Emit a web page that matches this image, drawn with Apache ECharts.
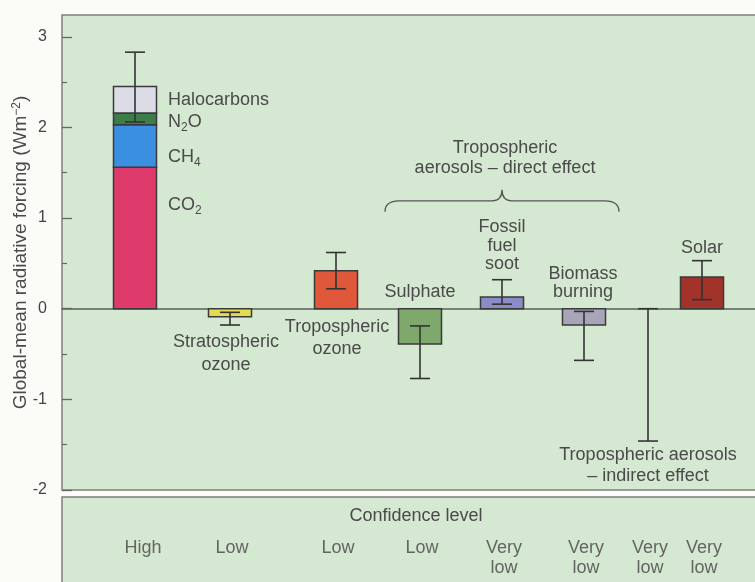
<!DOCTYPE html>
<html>
<head>
<meta charset="utf-8">
<script src="https://cdn.jsdelivr.net/npm/echarts@6/dist/echarts.min.js"></script>
<style>
  html, body { margin: 0; padding: 0; background: #fbfbf8; }
  #graph { width: 755px; height: 582px; }
</style>
</head>
<body>
<div id="graph"></div>
<script>
// forcing agents, left to right
var categories = ['Greenhouse gases', 'Stratospheric ozone', 'Tropospheric ozone', 'Sulphate',
    'Fossil fuel soot', 'Biomass burning', 'Tropospheric aerosols – indirect effect', 'Solar'];
var xPos = [73, 168, 274, 358, 440, 522, 586, 640];

// greenhouse gas stack (Wm-2)
var ghgNames = ['CO2', 'CH4', 'N2O', 'Halocarbons'];
var ghgValues = [1.56, 0.47, 0.13, 0.29];

// single bars (null = no bar)
var barValues = [null, -0.09, 0.42, -0.39, 0.13, -0.18, null, 0.35];

// uncertainty ranges
var errLow = [2.06, -0.18, 0.22, -0.77, 0.05, -0.57, -1.46, 0.10];
var errHigh = [2.83, -0.04, 0.62, -0.19, 0.32, -0.03, 0.00, 0.53];

var confidence = ['High', 'Low', 'Low', 'Low', 'Very\nlow', 'Very\nlow', 'Very\nlow', 'Very\nlow'];

var yTicks = [-2, -1, 0, 1, 2, 3];
var yMinorTicks = [-1.5, -0.5, 0.5, 1.5, 2.5];

var ghgColors = ['#de3a6b', '#3b8fe0', '#3d7d48', '#dcdce6'];
var barColors = [null, '#e4dc50', '#e0583a', '#7ea86c', '#8a8cc8', '#a9a5b8', null, '#a2332b'];

var FONT = '"Liberation Sans", Arial, sans-serif';
var TXT = '#4a4a4a';
var BG = '#d5e8d1';
var BAR_W = 43;

var barData = [];
var base = 0;
ghgValues.forEach(function (v, i) {
    barData.push({ name: ghgNames[i], value: [xPos[0], base, base + v], itemStyle: { color: ghgColors[i] } });
    base += v;
});
barValues.forEach(function (v, i) {
    if (v === null) return;
    barData.push({ name: categories[i], value: [xPos[i], 0, v], itemStyle: { color: barColors[i] } });
});

var errData = xPos.map(function (x, i) { return [x, errLow[i], errHigh[i]]; });

function renderBar(params, api) {
    var p0 = api.coord([api.value(0), api.value(1)]);
    var p1 = api.coord([api.value(0), api.value(2)]);
    var w = api.size([BAR_W, 0])[0];
    return {
        type: 'rect',
        shape: { x: p0[0] - w / 2, y: Math.min(p0[1], p1[1]), width: w, height: Math.abs(p1[1] - p0[1]) },
        style: api.style({ stroke: '#3a3a3a', lineWidth: 1.5 })
    };
}

function renderErr(params, api) {
    var lo = api.coord([api.value(0), api.value(1)]);
    var hi = api.coord([api.value(0), api.value(2)]);
    var c = 10;
    var st = { stroke: '#333', lineWidth: 1.6 };
    return {
        type: 'group',
        children: [
            { type: 'line', shape: { x1: lo[0], y1: lo[1], x2: hi[0], y2: hi[1] }, style: st },
            { type: 'line', shape: { x1: lo[0] - c, y1: lo[1], x2: lo[0] + c, y2: lo[1] }, style: st },
            { type: 'line', shape: { x1: hi[0] - c, y1: hi[1], x2: hi[0] + c, y2: hi[1] }, style: st }
        ]
    };
}

function renderBrace(params, api) {
    var a = api.coord([api.value(0), api.value(2)]);
    var b = api.coord([api.value(1), api.value(2)]);
    var y = a[1], x0 = a[0], x1 = b[0], xm = (x0 + x1) / 2;
    var d = 'M' + x0 + ',' + (y + 11) +
        ' Q' + x0 + ',' + y + ' ' + (x0 + 14) + ',' + y +
        ' L' + (xm - 10) + ',' + y +
        ' Q' + xm + ',' + y + ' ' + xm + ',' + (y - 11) +
        ' Q' + xm + ',' + y + ' ' + (xm + 10) + ',' + y +
        ' L' + (x1 - 14) + ',' + y +
        ' Q' + x1 + ',' + y + ' ' + x1 + ',' + (y + 11);
    return { type: 'path', shape: { pathData: d }, style: { stroke: '#555', lineWidth: 1.3, fill: null } };
}

var subRich = {
    sub: { fontSize: 12, lineHeight: 12, verticalAlign: 'bottom', fontFamily: FONT, fill: TXT }
};

function note(text, x, y, align, lh) {
    return {
        type: 'text', x: x, y: y, z: 10,
        style: {
            text: text, fill: TXT, font: '18px ' + FONT, lineHeight: lh || 22,
            align: align || 'center', verticalAlign: 'middle', rich: subRich
        }
    };
}

var chart = echarts.init(document.getElementById('graph'));

chart.setOption({
    backgroundColor: '#fbfbf8',
    animation: false,
    grid: [
        { left: 62, top: 15, width: 700, height: 475, outerBoundsMode: 'none', show: true,
          backgroundColor: BG, borderColor: '#7c807c', borderWidth: 1.5 },
        { left: 62, top: 497, width: 700, height: 120, outerBoundsMode: 'none', show: true,
          backgroundColor: BG, borderColor: '#7c807c', borderWidth: 1.5 }
    ],
    xAxis: [
        {
            type: 'value', gridIndex: 0, min: 0, max: 700,
            axisLine: { onZero: true, lineStyle: { color: '#5e5e5e', width: 1.5 } },
            axisTick: { show: false }, axisLabel: { show: false }, splitLine: { show: false }
        },
        { type: 'value', gridIndex: 1, min: 0, max: 700, show: false }
    ],
    yAxis: [
        {
            type: 'value', gridIndex: 0, min: -2, max: 3.24,
            name: 'Global-mean radiative forcing (Wm{sup|−2})',
            nameLocation: 'middle', nameGap: 32, nameRotate: 90, nameMoveOverlap: false,
            nameTextStyle: {
                color: TXT, fontSize: 19, fontFamily: FONT,
                rich: { sup: { fontSize: 12, verticalAlign: 'top', lineHeight: 10, color: TXT, fontFamily: FONT } }
            },
            axisLine: { show: false },
            axisTick: { inside: true, length: 10, customValues: yTicks, lineStyle: { color: '#666', width: 1.3 } },
            axisLabel: { customValues: yTicks, color: '#444', fontSize: 16, fontFamily: FONT, margin: 15 },
            splitLine: { show: false }
        },
        {
            type: 'value', gridIndex: 0, min: -2, max: 3.24, position: 'left',
            axisLine: { show: false },
            axisTick: { inside: true, length: 5, customValues: yMinorTicks, lineStyle: { color: '#666', width: 1.2 } },
            axisLabel: { show: false }, splitLine: { show: false }
        },
        { type: 'value', gridIndex: 1, min: 0, max: 120, inverse: true, show: false }
    ],
    series: [
        {
            type: 'custom', name: 'Forcing', xAxisIndex: 0, yAxisIndex: 0,
            renderItem: renderBar, encode: { x: 0, y: [1, 2] }, data: barData, z: 2
        },
        {
            type: 'custom', name: 'Uncertainty', xAxisIndex: 0, yAxisIndex: 0,
            renderItem: renderErr, encode: { x: 0, y: [1, 2] }, data: errData, z: 3
        },
        {
            type: 'custom', name: 'Direct aerosols', xAxisIndex: 0, yAxisIndex: 0,
            renderItem: renderBrace, encode: { x: [0, 1], y: 2 }, data: [[323, 557, 1.19]], z: 3
        },
        {
            type: 'scatter', name: 'Confidence', xAxisIndex: 1, yAxisIndex: 2,
            symbolSize: 0, silent: true,
            data: xPos.map(function (x, i) {
                return { value: [x, 41], label: { formatter: confidence[i], offset: [i === 0 ? 8 : 2, 0] } };
            }),
            label: {
                show: true, position: [0, 0], align: 'center', verticalAlign: 'top',
                color: '#454545', fontSize: 18, fontFamily: FONT, lineHeight: 20
            }
        }
    ],
    graphic: [
        note('Halocarbons', 168, 100, 'left'),
        note('N{sub|2}O', 168, 122, 'left', 24),
        note('CH{sub|4}', 168, 157, 'left', 24),
        note('CO{sub|2}', 168, 205, 'left', 24),
        note('Stratospheric\nozone', 226, 354, 'center', 23),
        note('Tropospheric\nozone', 337, 338, 'center', 22),
        note('Sulphate', 420, 292),
        note('Fossil\nfuel\nsoot', 502, 246, 'center', 18.5),
        note('Biomass\nburning', 583, 283, 'center', 17.5),
        note('Solar', 702, 248),
        note('Tropospheric\naerosols – direct effect', 505, 158, 'center', 20),
        note('Tropospheric aerosols\n– indirect effect', 648, 466, 'center', 21),
        note('Confidence level', 416, 516)
    ]
});
</script>
</body>
</html>
